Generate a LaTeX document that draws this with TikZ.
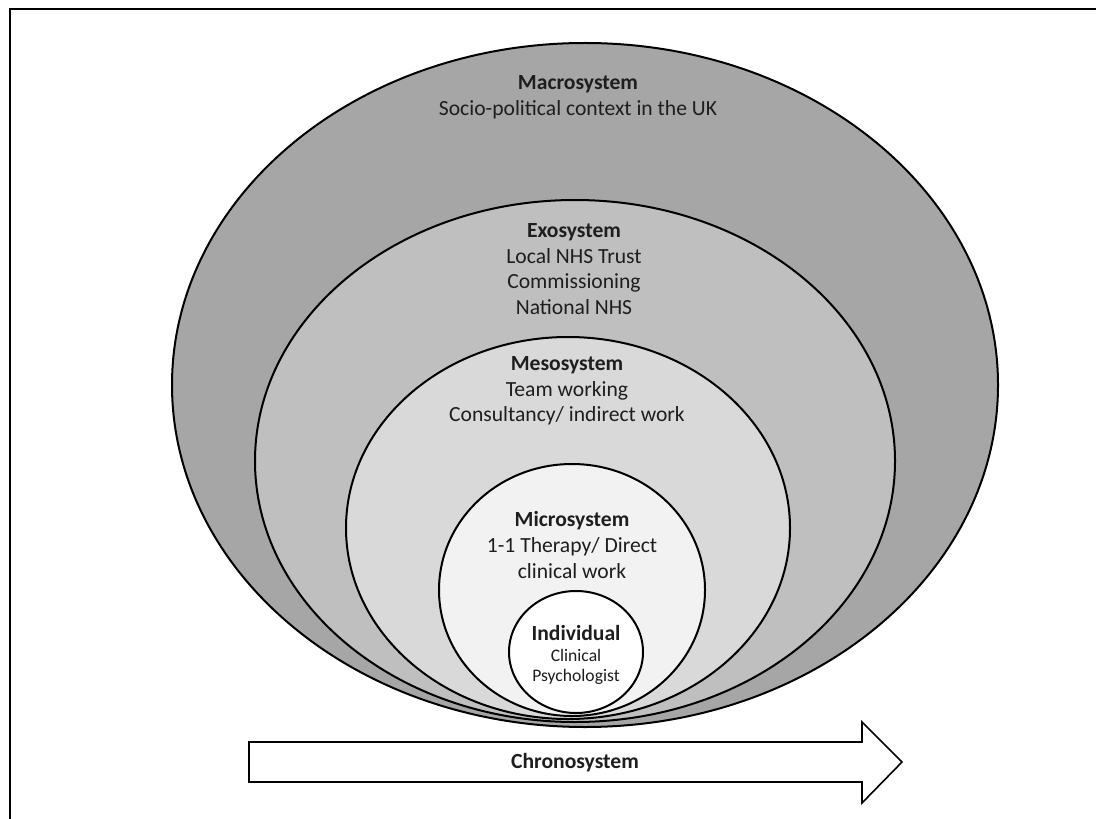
\documentclass[tikz,border=0pt]{standalone}
\usepackage{fontspec}
\setmainfont{Carlito}
\usepackage{tikz}
\usetikzlibrary{positioning}
\definecolor{macrofill}{HTML}{A6A6A6}
\definecolor{exofill}{HTML}{BFBFBF}
\definecolor{mesofill}{HTML}{D9D9D9}
\definecolor{microfill}{HTML}{F2F2F2}
\definecolor{textdark}{HTML}{1E1E1E}
\tikzset{layer/.style={draw=black, line width=1pt},
	systext/.style={align=center, text=textdark, inner sep=0pt, font=\fontsize{10.8}{12.85}\selectfont}}

\begin{document}
\begin{tikzpicture}[x=0.5pt,y=-0.5pt]
	\useasboundingbox (0,0) rectangle (1096,818);
	\draw [line width=1.3pt] (10,830) -- (10,9) -- (1110,9);
	% nested systems, outer first
	\draw [layer, fill=macrofill] (585,385) ellipse [x radius=206.5pt, y radius=171pt];
	\draw [layer, fill=exofill] (575,461) ellipse [x radius=160pt, y radius=130.5pt];
	\draw [layer, fill=mesofill] (568,528) ellipse [x radius=111pt, y radius=95.5pt];
	\draw [layer, fill=microfill] (572,590) ellipse [x radius=66.5pt, y radius=63pt];
	\draw [layer, fill=white] (576,652) ellipse [x radius=33.5pt, y radius=30.5pt];
	\node [systext] (macro) at (578,97) {\textbf{Macrosystem}\\Socio-political context in the UK};
	\node [systext] (exo) at (574,269) {\textbf{Exosystem}\\Local NHS Trust\\Commissioning\\National NHS};
	\node [systext] (meso) at (567,391) {\textbf{Mesosystem}\\Team working\\Consultancy/ indirect work};
	\node [systext] (micro) at (572,545) {\textbf{Microsystem}\\1-1 Therapy/ Direct\\clinical work};
	\node [systext] (indiv) at (576,633) {\textbf{Individual}};
	\node [systext, font=\fontsize{8.8}{10}\selectfont] (psych) at (576,667) {Clinical\\Psychologist};
	% time arrow
	\draw [line width=0.8pt, fill=white] (249,742) -- (862,742) -- (862,722) -- (902,762)
		-- (862,803) -- (862,782) -- (249,782) -- cycle;
	\node [systext] (chrono) at (575,763) {\textbf{Chronosystem}};
\end{tikzpicture}
\end{document}
